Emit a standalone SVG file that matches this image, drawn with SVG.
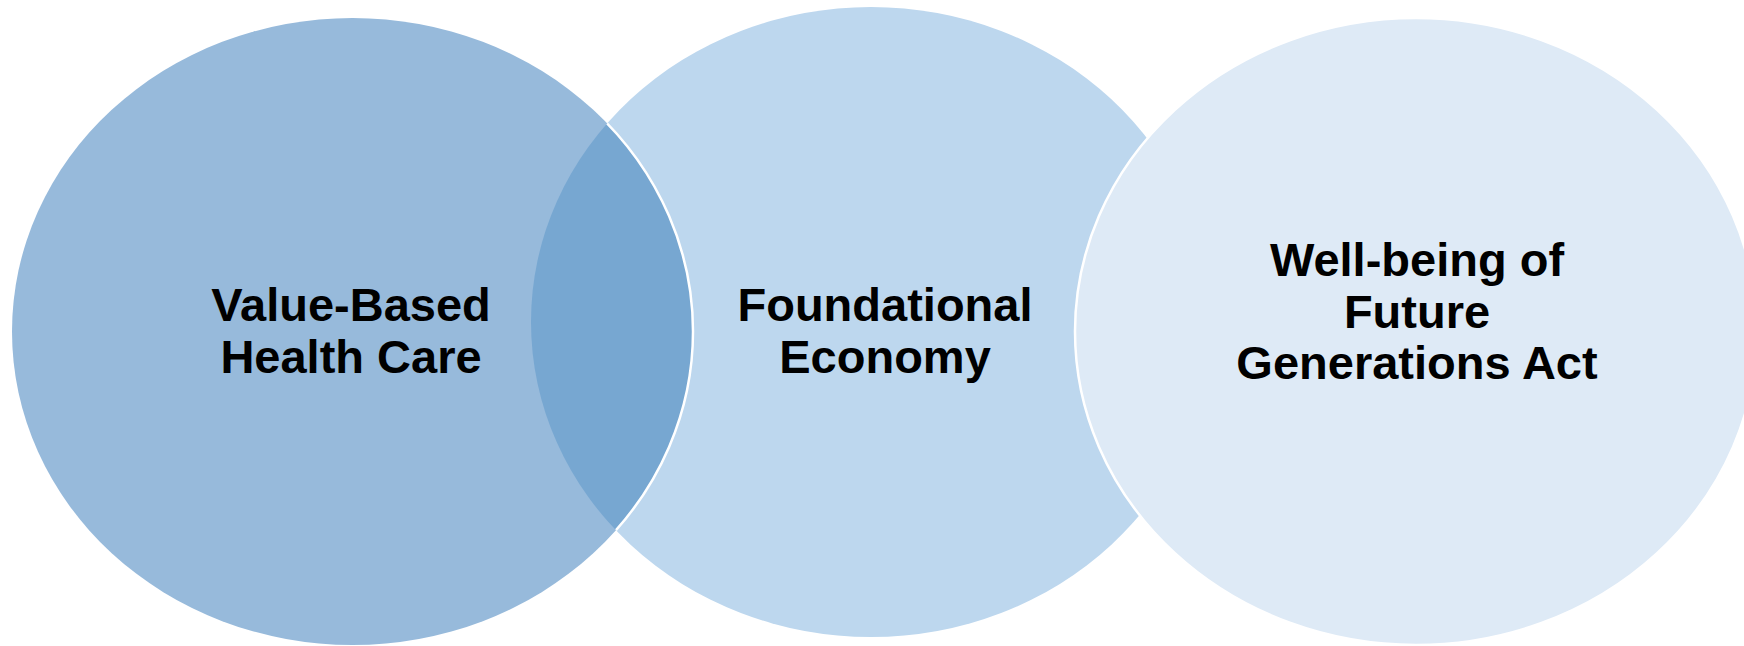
<svg xmlns="http://www.w3.org/2000/svg" width="1744" height="646" viewBox="0 0 1744 646">
<style>
.lbl{font-family:"Liberation Sans",Arial,sans-serif;font-weight:bold;font-size:47px;fill:#000;text-anchor:middle}
.edge{stroke:#fff;stroke-width:2.5}
</style>
<defs>
<clipPath id="c2"><ellipse cx="871" cy="322" rx="340" ry="315"/></clipPath>
</defs>
<rect width="1744" height="646" fill="#fff"/>
<g id="node-foundational-economy">
<ellipse cx="871" cy="322" rx="340" ry="315" fill="#BDD7EE"/>
</g>
<g id="node-value-based-health-care">
<ellipse cx="352.5" cy="331.5" rx="340.5" ry="313.5" fill="#97BADB"/>
<ellipse cx="352.5" cy="331.5" rx="340.5" ry="313.5" fill="#77A7D1" clip-path="url(#c2)"/>
<ellipse cx="352.5" cy="331.5" rx="340.5" ry="313.5" fill="none" class="edge" clip-path="url(#c2)"/>
<text class="lbl" x="351" y="321">Value-Based</text>
<text class="lbl" x="351" y="373">Health Care</text>
</g>
<g id="node-foundational-economy-label">
<text class="lbl" x="885" y="321">Foundational</text>
<text class="lbl" x="885" y="373">Economy</text>
</g>
<g id="node-well-being-act">
<ellipse cx="1416" cy="331.5" rx="341" ry="313.5" fill="#DEEAF6" class="edge"/>
<text class="lbl" x="1417" y="276">Well-being of</text>
<text class="lbl" x="1417" y="327.5">Future</text>
<text class="lbl" x="1417" y="379">Generations Act</text>
</g>
<g id="connectors"></g>
</svg>
